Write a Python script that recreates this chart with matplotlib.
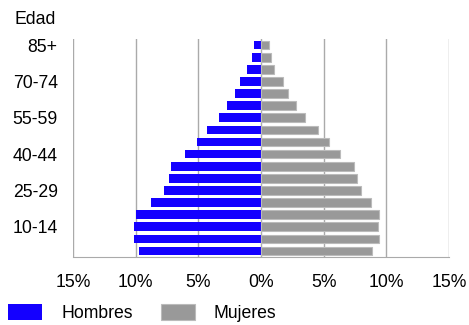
import numpy as np
import matplotlib.pyplot as plt

plt.rcParams['font.family'] = ['Liberation Sans', 'DejaVu Sans']

# age groups from youngest to oldest
grupos = ['0-4', '5-9', '10-14', '15-19', '20-24', '25-29', '30-34', '35-39',
          '40-44', '45-49', '50-54', '55-59', '60-64', '65-69', '70-74',
          '75-79', '80-84', '85+']
hombres = [9.73, 10.16, 10.16, 10.0, 8.80, 7.71, 7.31, 7.18, 6.09, 5.13,
           4.34, 3.38, 2.71, 2.05, 1.65, 1.09, 0.69, 0.56]
mujeres = [8.88, 9.44, 9.31, 9.44, 8.75, 7.95, 7.69, 7.42, 6.33, 5.40,
           4.57, 3.48, 2.82, 2.15, 1.73, 1.06, 0.80, 0.66]
xticks = [-15, -10, -5, 0, 5, 10, 15]
xticklabels = ['15%', '10%', '5%', '0%', '5%', '10%', '15%']

fs = 12.7
fig = plt.figure(figsize=(4.69, 3.25), dpi=100)
ax = fig.add_axes([0.1557, 0.209, 0.8013, 0.671])

y = np.arange(len(grupos))
bh = ax.barh(y, -np.array(hombres), height=0.72, color='#1400FF', zorder=3)
bm = ax.barh(y, mujeres, height=0.72, color='#999999', edgecolor='#BBBBBB',
             linewidth=0.8, zorder=3)

ax.set_xlim(-15, 15)
ax.set_ylim(-0.5, len(grupos) - 0.5)
ax.set_xticks(xticks)
ax.set_xticklabels(xticklabels, fontsize=fs)
ax.set_yticks(y[2::3])
ax.set_yticklabels(grupos[2::3], fontsize=fs)
ax.tick_params(axis='both', length=0)
ax.tick_params(axis='y', pad=11)
ax.tick_params(axis='x', pad=12)
ax.grid(axis='x', color='#AAAAAA', linewidth=1, zorder=0)
for s in ['top', 'left', 'right']:
    ax.spines[s].set_visible(False)
ax.spines['bottom'].set_color('#AAAAAA')

fig.text(14 / 469, 1 - 20 / 325, 'Edad', fontsize=fs, va='center', ha='left')

fig.legend([bh, bm], ['Hombres', 'Mujeres'], ncol=2, frameon=False,
           loc='lower left', bbox_to_anchor=(8 / 469, 1 - 322 / 325),
           fontsize=fs, borderpad=0, borderaxespad=0,
           handlelength=1.93, handleheight=0.95, handletextpad=1.08,
           columnspacing=1.6)

fig.savefig('out.png', dpi=100)
